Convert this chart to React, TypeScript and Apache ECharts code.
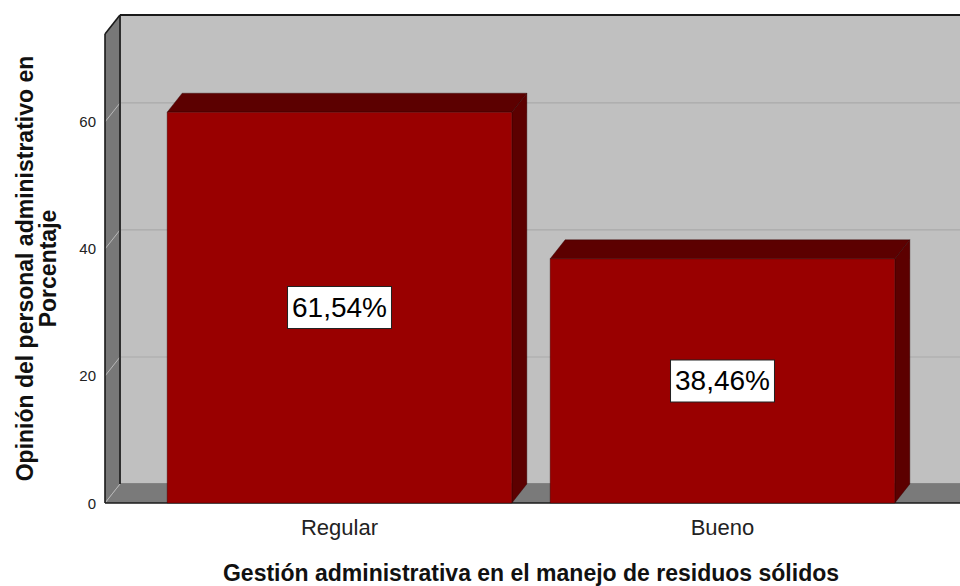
import React, { useEffect, useRef } from 'react';
import * as echarts from 'echarts';

const categories = ['Regular', 'Bueno'];
const percentages = [61.54, 38.46];
const yTicks = [0, 20, 40, 60];
const yMax = 73.85;
const xTitle = 'Gestión administrativa en el manejo de residuos sólidos';
const yTitle = 'Opinión del personal administrativo en\nPorcentaje';

const DX = 15;
const DY = -19;
const SIDE = 43;
const FONT = '"Liberation Sans", Arial, sans-serif';

export default function App() {
  const ref = useRef<HTMLDivElement>(null);
  useEffect(() => {
    document.body.style.margin = '0';
    const chart = echarts.init(ref.current as HTMLDivElement, null, { renderer: 'svg' });

    const wallsRender = (params: any, api: any) => {
      const cs = params.coordSys;
      const W = api.getWidth();
      const fl = cs.x - SIDE;
      const bl = fl + DX;
      const top = cs.y;
      const bot = cs.y + cs.height;
      const children: any[] = [];
      children.push({
        type: 'rect',
        shape: { x: bl, y: top + DY, width: W - bl + 10, height: cs.height },
        style: { fill: '#c0c0c0', stroke: '#444', lineWidth: 1 },
      });
      children.push({
        type: 'polygon',
        shape: { points: [[fl, top], [bl, top + DY], [bl, bot + DY], [fl, bot]] },
        style: { fill: '#787878' },
      });
      children.push({
        type: 'polygon',
        shape: { points: [[fl, bot], [bl, bot + DY], [W + 10, bot + DY], [W + 10, bot]] },
        style: { fill: '#7a7a7a' },
      });
      yTicks.forEach((v) => {
        const y = api.coord([0, v])[1];
        if (v > 0) {
          children.push({
            type: 'line',
            shape: { x1: bl + 1, y1: y + DY, x2: W, y2: y + DY },
            style: { stroke: '#aaaaaa', lineWidth: 1.2 },
          });
        }
        children.push({
          type: 'line',
          shape: { x1: fl, y1: y, x2: bl, y2: y + DY },
          style: { stroke: '#b8b8b8', lineWidth: 1 },
        });
      });
      const dark = { stroke: '#1a1a1a', lineWidth: 1.6 };
      children.push({ type: 'line', shape: { x1: bl, y1: top + DY, x2: W, y2: top + DY }, style: { ...dark, lineWidth: 2 } });
      children.push({ type: 'line', shape: { x1: fl, y1: top, x2: bl, y2: top + DY }, style: dark });
      children.push({ type: 'line', shape: { x1: fl, y1: top, x2: fl, y2: bot }, style: dark });
      children.push({ type: 'line', shape: { x1: bl, y1: top + DY, x2: bl, y2: bot + DY }, style: dark });
      children.push({ type: 'line', shape: { x1: fl, y1: bot, x2: W, y2: bot }, style: dark });
      return { type: 'group', children };
    };

    const barsRender = (params: any, api: any) => {
      const idx = api.value(0);
      const val = api.value(1);
      const p = api.coord([idx, val]);
      const cx = p[0];
      const ty = p[1];
      const by = api.coord([idx, 0])[1];
      const bw = api.size([1, 0])[0] * 0.9;
      const x0 = cx - bw / 2;
      const x1 = cx + bw / 2;
      const edge = { stroke: 'rgba(40,0,0,0.6)', lineWidth: 0.6 };
      return {
        type: 'group',
        children: [
          {
            type: 'polygon',
            shape: { points: [[x0, ty], [x0 + DX, ty + DY], [x1 + DX, ty + DY], [x1, ty]] },
            style: { fill: '#5c0000', ...edge },
          },
          {
            type: 'polygon',
            shape: { points: [[x1, ty], [x1 + DX, ty + DY], [x1 + DX, by + DY], [x1, by]] },
            style: { fill: '#5c0000', ...edge },
          },
          {
            type: 'rect',
            shape: { x: x0, y: ty, width: bw, height: by - ty },
            style: { fill: '#990000', ...edge },
          },
          {
            type: 'text',
            z2: 10,
            style: {
              text: val.toFixed(2).replace('.', ',') + '%',
              x: cx,
              y: (ty + by) / 2,
              align: 'center',
              verticalAlign: 'middle',
              fontSize: 28,
              fontFamily: FONT,
              fill: '#000',
              backgroundColor: '#ffffff',
              borderColor: '#222',
              borderWidth: 1,
              padding: [6, 4, 5, 4],
              lineHeight: 30,
            },
          },
        ],
      };
    };

    chart.setOption({
      animation: false,
      backgroundColor: '#ffffff',
      grid: { left: 148, right: 46, top: 34, bottom: 83, outerBoundsMode: 'none', containLabel: false },
      xAxis: {
        type: 'category',
        data: categories,
        axisLine: { show: false },
        axisTick: { show: false },
        splitLine: { show: false },
        axisLabel: { fontSize: 22, color: '#222', margin: 13, fontFamily: FONT },
        name: xTitle,
        nameLocation: 'middle',
        nameGap: 70,
        nameTextStyle: { fontSize: 23, fontWeight: 'bold', color: '#111', fontFamily: FONT, verticalAlign: 'middle', lineHeight: 23 },
      },
      yAxis: {
        type: 'value',
        min: 0,
        max: yMax,
        interval: 20,
        axisLine: { show: false },
        axisTick: { show: false },
        splitLine: { show: false },
        axisLabel: {
          fontSize: 15,
          color: '#222',
          margin: 52,
          fontFamily: FONT,
          showMaxLabel: false,
          formatter: (v: number) => (yTicks.indexOf(v) >= 0 ? String(v) : ''),
        },
        name: yTitle,
        nameLocation: 'middle',
        nameGap: 112,
        nameRotate: 90,
        nameTextStyle: {
          fontSize: 23,
          fontWeight: 'bold',
          color: '#111',
          fontFamily: FONT,
          lineHeight: 23,
          align: 'center',
          verticalAlign: 'middle',
        },
      },
      series: [
        {
          type: 'custom',
          name: 'walls',
          silent: true,
          z: 1,
          clip: false,
          renderItem: wallsRender,
          data: [[0, 0]],
          encode: { x: 0, y: 1 },
        },
        {
          type: 'custom',
          name: 'Porcentaje',
          z: 2,
          clip: false,
          renderItem: barsRender,
          data: percentages.map((v, i) => [i, v]),
          encode: { x: 0, y: 1 },
        },
      ],
    });
    return () => chart.dispose();
  }, []);
  return <div ref={ref} style={{ width: 960, height: 586 }} />;
}
